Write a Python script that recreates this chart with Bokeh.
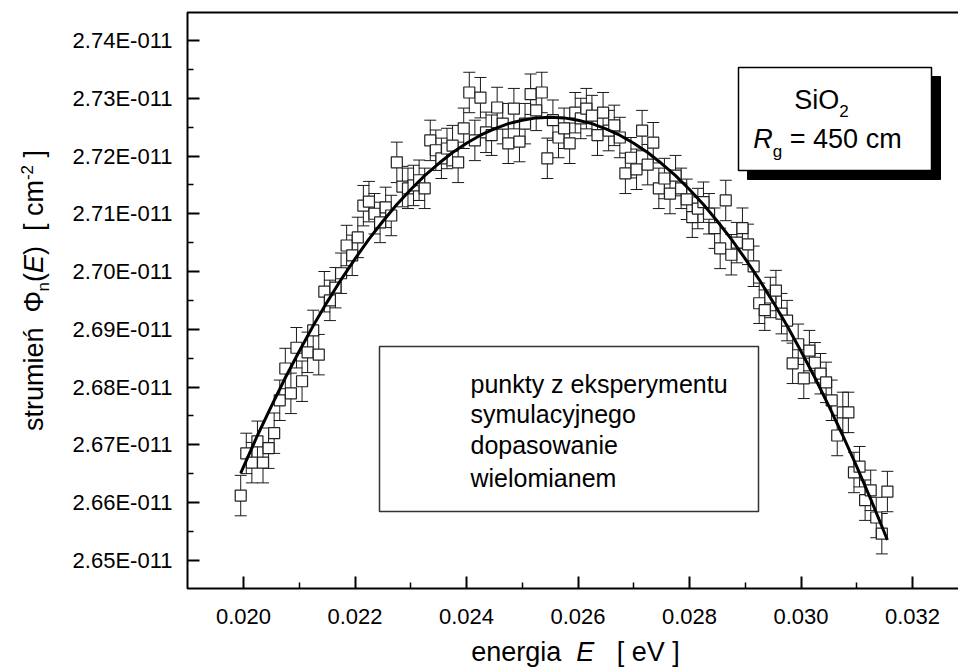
import math
from bokeh.plotting import figure
from bokeh.models import FixedTicker, CustomJSTickFormatter, Label, BoxAnnotation, ColumnDataSource
from bokeh.embed import file_html
from bokeh.resources import INLINE

# ---------------- data (flux in units of 1e-11 cm^-2) ----------------
energy = [
    0.01995, 0.02005, 0.02015, 0.02025, 0.02035, 0.02045, 0.02055, 0.02065, 0.02075, 0.02085,
    0.02095, 0.02105, 0.02115, 0.02125, 0.02135, 0.02145, 0.02155, 0.02165, 0.02175, 0.02185,
    0.02195, 0.02205, 0.02215, 0.02225, 0.02235, 0.02245, 0.02255, 0.02265, 0.02275, 0.02285,
    0.02295, 0.02305, 0.02315, 0.02325, 0.02335, 0.02345, 0.02355, 0.02365, 0.02375, 0.02385,
    0.02395, 0.02405, 0.02415, 0.02425, 0.02435, 0.02445, 0.02455, 0.02465, 0.02475, 0.02485,
    0.02495, 0.02505, 0.02515, 0.02525, 0.02535, 0.02545, 0.02555, 0.02565, 0.02575, 0.02585,
    0.02595, 0.02605, 0.02615, 0.02625, 0.02635, 0.02645, 0.02655, 0.02665, 0.02675, 0.02685,
    0.02695, 0.02705, 0.02715, 0.02725, 0.02735, 0.02745, 0.02755, 0.02765, 0.02775, 0.02785,
    0.02795, 0.02805, 0.02815, 0.02825, 0.02835, 0.02845, 0.02855, 0.02865, 0.02875, 0.02885,
    0.02895, 0.02905, 0.02915, 0.02925, 0.02935, 0.02945, 0.02955, 0.02965, 0.02975, 0.02985,
    0.02995, 0.03005, 0.03015, 0.03025, 0.03035, 0.03045, 0.03055, 0.03065, 0.03075, 0.03085,
    0.03095, 0.03105, 0.03115, 0.03125, 0.03135, 0.03145, 0.03155,
]
flux = [
    2.6612, 2.6685, 2.6669, 2.6706, 2.6669, 2.6694, 2.6720, 2.6777, 2.6832, 2.6789,
    2.6868, 2.6810, 2.6860, 2.6898, 2.6856, 2.6965, 2.6950, 2.6972, 2.6997, 2.7045,
    2.7028, 2.7059, 2.7114, 2.7121, 2.7100, 2.7085, 2.7111, 2.7097, 2.7189, 2.7147,
    2.7144, 2.7149, 2.7158, 2.7144, 2.7227, 2.7210, 2.7196, 2.7213, 2.7218, 2.7189,
    2.7248, 2.7310, 2.7227, 2.7301, 2.7241, 2.7236, 2.7284, 2.7256, 2.7222, 2.7282,
    2.7225, 2.7256, 2.7307, 2.7279, 2.7310, 2.7196, 2.7262, 2.7232, 2.7248, 2.7222,
    2.7275, 2.7265, 2.7282, 2.7270, 2.7236, 2.7275, 2.7244, 2.7253, 2.7232, 2.7170,
    2.7197, 2.7177, 2.7244, 2.7185, 2.7223, 2.7144, 2.7161, 2.7135, 2.7166, 2.7144,
    2.7125, 2.7094, 2.7109, 2.7120, 2.7100, 2.7075, 2.7040, 2.7123, 2.7029, 2.7050,
    2.7075, 2.7047, 2.7009, 2.6945, 2.6933, 2.6955, 2.6967, 2.6927, 2.6915, 2.6841,
    2.6874, 2.6815, 2.6863, 2.6842, 2.6823, 2.6808, 2.6777, 2.6716, 2.6756, 2.6756,
    2.6652, 2.6662, 2.6604, 2.6621, 2.6574, 2.6546, 2.6619,
]
flux_err = 0.0035

fit_energy = [
    0.01995, 0.02025, 0.02050, 0.02075, 0.02100, 0.02125, 0.02150, 0.02175, 0.02200, 0.02225,
    0.02250, 0.02275, 0.02300, 0.02325, 0.02350, 0.02375, 0.02400, 0.02425, 0.02450, 0.02475,
    0.02500, 0.02525, 0.02550, 0.02575, 0.02600, 0.02625, 0.02650, 0.02675, 0.02700, 0.02725,
    0.02750, 0.02775, 0.02800, 0.02825, 0.02850, 0.02875, 0.02900, 0.02925, 0.02950, 0.02975,
    0.03000, 0.03025, 0.03050, 0.03075, 0.03100, 0.03125, 0.03155,
]
fit_flux = [
    2.6651, 2.6716, 2.6767, 2.6816, 2.6862, 2.6906, 2.6947, 2.6986, 2.7022, 2.7056,
    2.7087, 2.7116, 2.7142, 2.7166, 2.7187, 2.7206, 2.7222, 2.7236, 2.7247, 2.7256,
    2.7262, 2.7266, 2.7267, 2.7266, 2.7262, 2.7256, 2.7247, 2.7236, 2.7222, 2.7206,
    2.7187, 2.7166, 2.7142, 2.7116, 2.7087, 2.7056, 2.7022, 2.6986, 2.6947, 2.6906,
    2.6862, 2.6816, 2.6767, 2.6716, 2.6662, 2.6606, 2.6535,
]

x_ticks = [0.020, 0.022, 0.024, 0.026, 0.028, 0.030, 0.032]
x_minor = [0.021, 0.023, 0.025, 0.027, 0.029, 0.031]
y_ticks = [2.65, 2.66, 2.67, 2.68, 2.69, 2.70, 2.71, 2.72, 2.73, 2.74]
y_minor = [2.655, 2.665, 2.675, 2.685, 2.695, 2.705, 2.715, 2.725, 2.735]

# ---------------- layout: the frame spans the whole canvas ----------------
W_, H_ = 958, 669
FONT = "Liberation Sans"
# pixel calibration: 0.020 -> 243 px, 0.032 -> 912 px ; 2.74 -> 40 px, 2.66 -> 502 px
XPP = (0.032 - 0.020) / (912 - 243)
YPP = (2.74 - 2.66) / (502 - 40)
XS = 0.020 - 243 * XPP
XE = XS + W_ * XPP
YT = 2.74 + 40 * YPP
YB = YT - H_ * YPP


def dx(px):
    return XS + px * XPP


def dy(py):
    return YT - py * YPP


BOX_L, BOX_T, BOX_B, BOX_R = 187, 12, 588, 961

p = figure(width=W_, height=H_, x_range=(XS, XE), y_range=(YB, YT),
           output_backend="svg", toolbar_location=None, min_border=0)
p.grid.visible = False
p.outline_line_color = None
p.background_fill_color = "white"
p.border_fill_color = "white"

p.xaxis.fixed_location = dy(BOX_B)
p.yaxis.fixed_location = dx(BOX_L)
for ax in (p.xaxis[0], p.yaxis[0]):
    ax.axis_line_color = None
    ax.major_tick_in = 12
    ax.major_tick_out = 0
    ax.minor_tick_in = 6
    ax.minor_tick_out = 0
    ax.major_tick_line_width = 2
    ax.minor_tick_line_width = 1.5
    ax.major_tick_line_color = "black"
    ax.minor_tick_line_color = "black"
    ax.major_label_text_font = FONT
    ax.major_label_text_font_size = "22px"
    ax.major_label_text_color = "black"

p.xaxis.ticker = FixedTicker(ticks=x_ticks, minor_ticks=x_minor)
p.yaxis.ticker = FixedTicker(ticks=y_ticks, minor_ticks=y_minor)
p.xaxis.formatter = CustomJSTickFormatter(code="return tick.toFixed(3);")
p.yaxis.formatter = CustomJSTickFormatter(code="return tick.toFixed(2) + 'E-011';")
p.xaxis.major_label_standoff = 20
p.yaxis.major_label_standoff = 15

# plot box (frame outline)
p.add_layout(BoxAnnotation(left=dx(BOX_L), right=dx(BOX_R), top=dy(BOX_T), bottom=dy(BOX_B),
                           fill_color=None, line_color="black", line_alpha=1, line_width=2))

# ---------------- data glyphs ----------------
src = ColumnDataSource(dict(
    x=energy, y=flux,
    lo=[f - flux_err for f in flux],
    hi=[f + flux_err for f in flux],
))
p.segment(x0="x", y0="lo", x1="x", y1="hi", source=src, line_color="#1a1a1a", line_width=1)
p.scatter(x="x", y="hi", source=src, marker="dash", size=12, line_color="#1a1a1a", line_width=1)
p.scatter(x="x", y="lo", source=src, marker="dash", size=12, line_color="#1a1a1a", line_width=1)
p.scatter(x="x", y="y", source=src, marker="square", size=11,
          fill_color="white", line_color="#222222", line_width=1.2)
p.line(fit_energy, fit_flux, line_color="black", line_width=3)

# ---------------- text helpers ----------------
WID = {' ': 278, '(': 333, ')': 333, '[': 278, ']': 278, '-': 333, '=': 584, '.': 278,
       'a': 556, 'b': 556, 'c': 500, 'd': 556, 'e': 556, 'g': 556, 'i': 222, 'j': 222,
       'k': 500, 'l': 222, 'm': 833, 'n': 556, 'o': 556, 'p': 556, 'r': 333, 's': 500,
       't': 278, 'u': 556, 'w': 722, 'y': 500, 'z': 500, 'ń': 556, 'E': 667, 'R': 722,
       'S': 667, 'O': 778, 'V': 667, 'Φ': 780}
MID = 0.3465  # distance from alphabetic baseline to the middle of the em box (Arial metrics)


def tw(s, size):
    return sum(WID.get(ch, 556) for ch in s) / 1000.0 * size


def lab(text, px, py, size, italic=False, vertical=False):
    # (px, py) is the alphabetic baseline start point in canvas pixels
    if vertical:
        px, angle = px - MID * size, math.pi / 2
    else:
        py, angle = py - MID * size, 0.0
    p.add_layout(Label(x=dx(px), y=dy(py), text=text, text_font=FONT,
                       text_font_size=f"{size}px",
                       text_font_style="italic" if italic else "normal",
                       text_baseline="middle", text_align="left",
                       text_color="black", angle=angle))


def runs_h(runs, px_center, py_base):
    total = sum(tw(t, s) for t, s, _, _ in runs)
    cur = px_center - total / 2
    for t, s, it, sh in runs:
        lead = len(t) - len(t.lstrip(' '))
        core = t.strip(' ')
        cur += tw(' ' * lead, s)
        if core:
            lab(core, cur, py_base + sh, s, it)
        cur += tw(t[lead:], s)


def runs_v(runs, px_base, py_center):
    total = sum(tw(t, s) for t, s, _, _ in runs)
    cur = py_center + total / 2
    for t, s, it, sh in runs:
        lead = len(t) - len(t.lstrip(' '))
        core = t.strip(' ')
        cur -= tw(' ' * lead, s)
        if core:
            lab(core, px_base + sh, cur, s, it, vertical=True)
        cur -= tw(t[lead:], s)


# axis titles
runs_h([("energia", 27, False, 0), ("  E", 27, True, 0), ("   [ eV ]", 27, False, 0)], 575, 661)
runs_v([("strumień", 27, False, 0), ("  Φ", 27, False, 0), ("n", 17, False, 6),
        ("(", 27, False, 0), ("E", 27, True, 0), (")", 27, False, 0),
        ("  [", 27, False, 0), (" cm", 27, False, 0), ("-2", 17, False, -11),
        (" ]", 27, False, 0)], 43, 290)

# SiO2 box with shadow
p.add_layout(BoxAnnotation(left=dx(747), right=dx(940), top=dy(76), bottom=dy(179),
                           fill_color="black", fill_alpha=1, line_color="black", line_alpha=1))
p.add_layout(BoxAnnotation(left=dx(738), right=dx(931), top=dy(67), bottom=dy(170),
                           fill_color="white", fill_alpha=1, line_color="black", line_alpha=1,
                           line_width=1.5))
runs_h([("SiO", 27, False, 0), ("2", 17, False, 7)], 821, 109)
runs_h([("R", 27, True, 0), ("g", 17, False, 9), (" = 450 cm", 27, False, 0)], 827, 148)

# legend box
p.add_layout(BoxAnnotation(left=dx(379), right=dx(758), top=dy(346), bottom=dy(511),
                           fill_color="white", fill_alpha=1, line_color="#333333", line_alpha=1,
                           line_width=1.5))
p.scatter(x=[dx(404)], y=[dy(383)], marker="square", size=11,
          fill_color="white", line_color="#222222", line_width=1.2)
p.line(x=[dx(399), dx(447)], y=[dy(445), dy(445)], line_color="black", line_width=3)
for txt, yb in (("punkty z eksperymentu", 392), ("symulacyjnego", 422),
                ("dopasowanie", 453), ("wielomianem", 486)):
    lab(txt, 470, yb, 25)

open("out.html", "w").write(file_html(p, INLINE))
